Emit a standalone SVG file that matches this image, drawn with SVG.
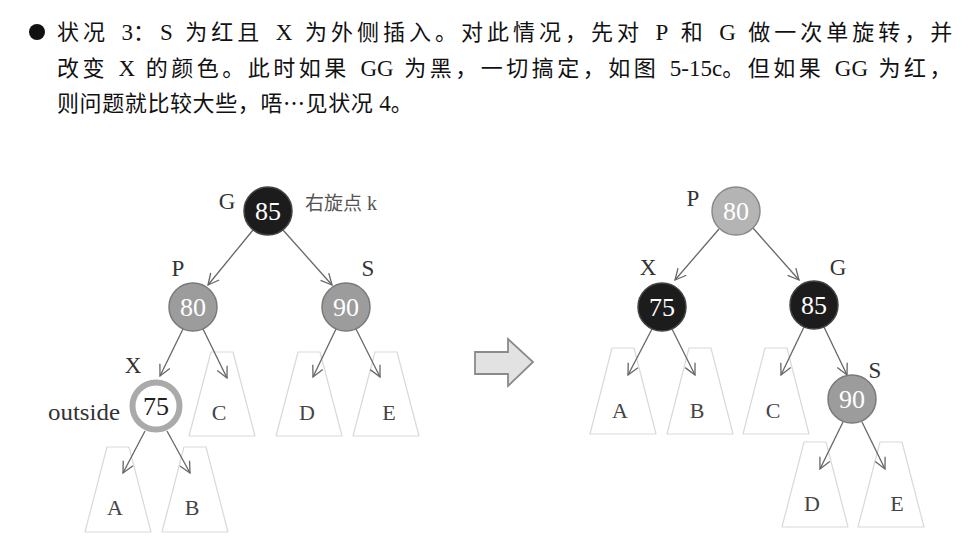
<svg xmlns="http://www.w3.org/2000/svg" width="978" height="546" viewBox="0 0 978 546">
<defs>
<style>
.para{font-size:22px;fill:#111}
.cjk{font-family:"Noto Sans CJK SC","Liberation Serif",sans-serif;letter-spacing:4px}
.cjk2{font-family:"Noto Sans CJK SC","Liberation Serif",sans-serif;letter-spacing:3.5px}
.cjk3{font-family:"Noto Sans CJK SC","Liberation Serif",sans-serif;letter-spacing:0.6px}
.lat{font-family:"Liberation Serif","Noto Sans CJK SC",serif;font-size:23px;letter-spacing:0}
.lbl{font-family:"Liberation Serif",serif;font-size:23px;fill:#333;text-anchor:middle}
.num{font-family:"Liberation Serif",serif;font-size:26px;fill:#fff;text-anchor:middle}
.numd{font-family:"Liberation Serif",serif;font-size:26px;fill:#222;text-anchor:middle}
.sub{font-family:"Liberation Serif",serif;font-size:22px;fill:#444;text-anchor:middle}
.trap{fill:#fff;stroke:#d9d9d9;stroke-width:1.2;stroke-linejoin:round}
.black{fill:#1c1c1c;stroke:#444;stroke-width:1.5}
.gray{fill:#9c9c9c;stroke:#7a7a7a;stroke-width:1.5}
.lgray{fill:#b4b4b4;stroke:#8a8a8a;stroke-width:1.5}
.edge{stroke:#666;stroke-width:1.3;fill:none;marker-end:url(#arr)}
</style>
<marker id="arr" viewBox="0 0 13 13" refX="12" refY="6.5" markerWidth="13" markerHeight="13" markerUnits="userSpaceOnUse" orient="auto">
<path d="M1,1 L12,6.5 L1,12" fill="none" stroke="#666" stroke-width="1.3"/>
</marker>
</defs>
<rect width="978" height="546" fill="#fff"/>

<g id="text">
<circle cx="37" cy="32" r="8" fill="#111"/>
<text class="para" y="40"><tspan class="cjk" x="57">状况</tspan><tspan class="lat" x="121.5">3</tspan><tspan class="cjk" x="133">：</tspan><tspan class="lat" x="160">S</tspan><tspan class="cjk" x="185.3">为红且</tspan><tspan class="lat" x="275.8">X</tspan><tspan class="cjk" x="304.9">为外侧插入。对此情况，先对</tspan><tspan class="lat" x="655.4">P</tspan><tspan class="cjk" x="680.7">和</tspan><tspan class="lat" x="719.2">G</tspan><tspan class="cjk" x="748.3">做一次单旋转，并</tspan></text>
<text class="para" y="76"><tspan class="cjk2" x="57">改变</tspan><tspan class="lat" x="118.6">X</tspan><tspan class="cjk2" x="145.8">的颜色。此时如果</tspan><tspan class="lat" x="360.4">GG</tspan><tspan class="cjk2" x="404.2">为黑，一切搞定，如图</tspan><tspan class="lat" x="669.8">5-15c</tspan><tspan class="cjk2" x="722.2">。但如果</tspan><tspan class="lat" x="834.8">GG</tspan><tspan class="cjk2" x="878.6">为红，</tspan></text>
<text class="para" y="111"><tspan class="cjk3" x="57">则问题就比较大些，唔…见状况</tspan><tspan class="lat"> 4</tspan><tspan class="cjk3">。</tspan></text>
</g>

<g id="left-subtrees">
<g id="L-C"><path class="trap" d="M211,352 L233,352 L255,436 L189,436 Z"/><text class="sub" x="219" y="420">C</text></g>
<g id="L-D"><path class="trap" d="M298,352 L320,352 L342,436 L276,436 Z"/><text class="sub" x="307" y="420">D</text></g>
<g id="L-E"><path class="trap" d="M375,352 L397,352 L419,436 L353,436 Z"/><text class="sub" x="389" y="420">E</text></g>
<g id="L-A"><path class="trap" d="M107,447 L129,447 L151,532 L85,532 Z"/><text class="sub" x="115" y="515">A</text></g>
<g id="L-B"><path class="trap" d="M184,447 L206,447 L228,532 L162,532 Z"/><text class="sub" x="192" y="515">B</text></g>
</g>

<g id="right-subtrees">
<g id="R-A"><path class="trap" d="M612,348 L634,348 L656,434 L590,434 Z"/><text class="sub" x="620" y="418">A</text></g>
<g id="R-B"><path class="trap" d="M689,348 L711,348 L733,434 L667,434 Z"/><text class="sub" x="697" y="418">B</text></g>
<g id="R-C"><path class="trap" d="M765,348 L787,348 L809,434 L743,434 Z"/><text class="sub" x="773" y="418">C</text></g>
<g id="R-D"><path class="trap" d="M804,442 L826,442 L848,527 L782,527 Z"/><text class="sub" x="812" y="511">D</text></g>
<g id="R-E"><path class="trap" d="M880,442 L902,442 L924,527 L858,527 Z"/><text class="sub" x="897" y="511">E</text></g>
</g>

<g id="connectors">
<line class="edge" x1="253" y1="230" x2="208" y2="285"/>
<line class="edge" x1="283" y1="230" x2="332" y2="285"/>
<line class="edge" x1="183" y1="329" x2="160" y2="376"/>
<line class="edge" x1="203" y1="329" x2="227" y2="378"/>
<line class="edge" x1="336" y1="329" x2="313" y2="377"/>
<line class="edge" x1="356" y1="329" x2="380" y2="377"/>
<line class="edge" x1="145" y1="431" x2="123" y2="473"/>
<line class="edge" x1="167" y1="431" x2="190" y2="473"/>
<line class="edge" x1="719" y1="229" x2="675" y2="280"/>
<line class="edge" x1="753" y1="228" x2="799" y2="280"/>
<line class="edge" x1="652" y1="329" x2="628" y2="375"/>
<line class="edge" x1="672" y1="329" x2="695" y2="375"/>
<line class="edge" x1="804" y1="327" x2="781" y2="375"/>
<line class="edge" x1="824" y1="327" x2="847" y2="375"/>
<line class="edge" x1="843" y1="422" x2="820" y2="469"/>
<line class="edge" x1="862" y1="422" x2="885" y2="469"/>
</g>

<g id="L-G">
<circle class="black" cx="268" cy="211" r="24"/>
<text class="num" x="268" y="220">85</text>
<text class="lbl" x="227" y="209">G</text>
<text x="305" y="210" font-size="19" fill="#555"><tspan font-family="'Noto Sans CJK SC',sans-serif">右旋点</tspan><tspan font-family="'Liberation Serif',serif" font-size="20" dx="5">k</tspan></text>
</g>
<g id="L-P">
<circle class="gray" cx="193" cy="307" r="24"/>
<text class="num" x="193" y="316">80</text>
<text class="lbl" x="178" y="276">P</text>
</g>
<g id="L-S">
<circle class="gray" cx="346" cy="307" r="24"/>
<text class="num" x="346" y="316">90</text>
<text class="lbl" x="368" y="276">S</text>
</g>
<g id="L-X">
<circle cx="156" cy="406" r="23.5" fill="#fff" stroke="#aaa" stroke-width="6"/>
<text class="numd" x="156" y="415">75</text>
<text class="lbl" x="133" y="373">X</text>
<text x="48" y="420" font-family="'Liberation Serif',serif" font-size="24" fill="#333" textLength="72" lengthAdjust="spacingAndGlyphs">outside</text>
</g>

<g id="arrow">
<path d="M475,352 L508,352 L508,339 L533,362 L508,386 L508,374 L475,374 Z" fill="#e2e2e2" stroke="#8a8a8a" stroke-width="1.8" stroke-linejoin="miter"/>
</g>

<g id="R-P">
<circle class="lgray" cx="736" cy="211" r="24"/>
<text class="num" x="736" y="220">80</text>
<text class="lbl" x="693" y="206">P</text>
</g>
<g id="R-X">
<circle class="black" cx="662" cy="307" r="24"/>
<text class="num" x="662" y="316">75</text>
<text class="lbl" x="648" y="275">X</text>
</g>
<g id="R-G">
<circle class="black" cx="814" cy="305" r="24"/>
<text class="num" x="814" y="314">85</text>
<text class="lbl" x="838" y="275">G</text>
</g>
<g id="R-S">
<circle class="gray" cx="852" cy="399" r="24"/>
<text class="num" x="852" y="408">90</text>
<text class="lbl" x="875" y="378">S</text>
</g>
</svg>
